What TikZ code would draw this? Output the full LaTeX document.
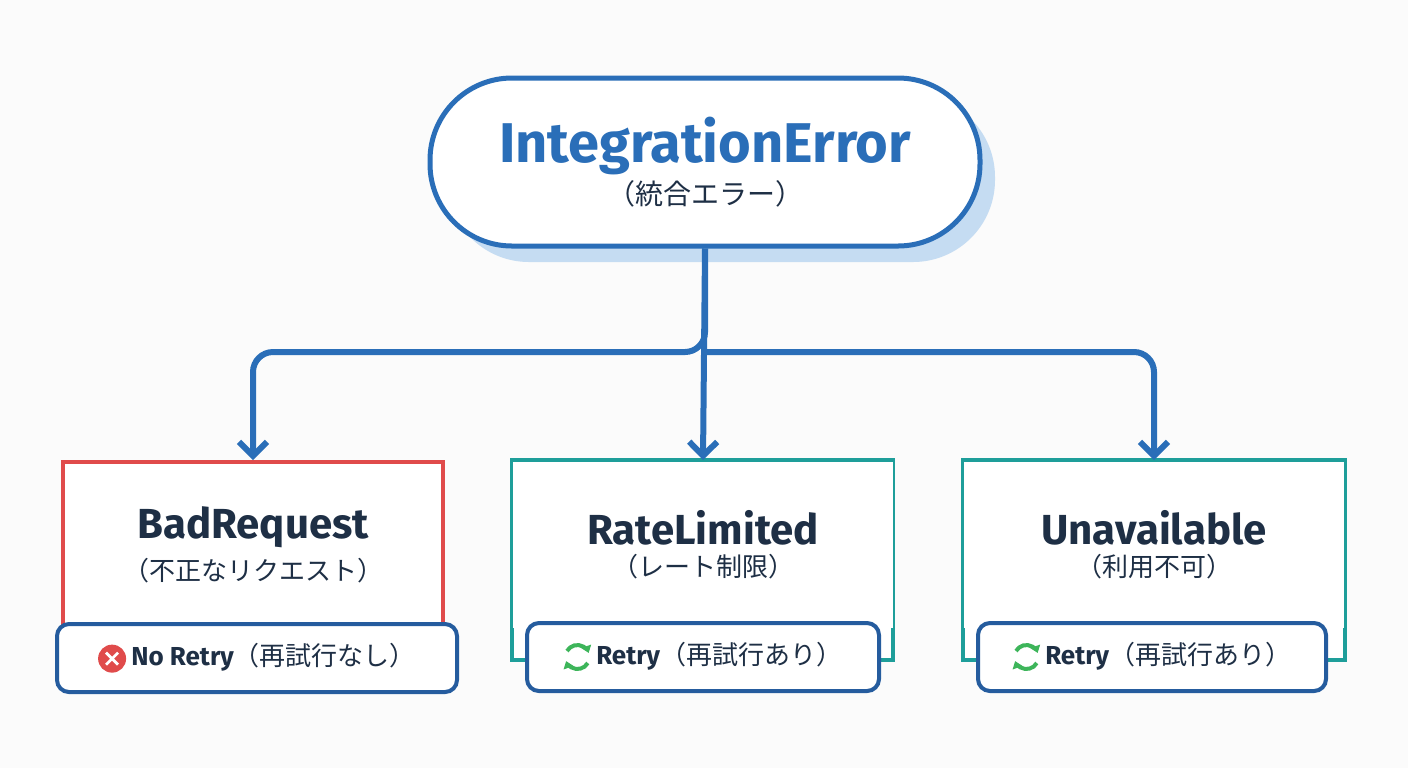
\documentclass[tikz,border=0pt]{standalone}
\usepackage{fontspec}
\setmainfont{Fira Sans}
\newfontfamily\jp{Noto Sans CJK JP}
\usetikzlibrary{arrows.meta}
\definecolor{errblue}{HTML}{2A6EB8}
\definecolor{shadeblue}{HTML}{C5DCF2}
\definecolor{errred}{HTML}{E04B4B}
\definecolor{errteal}{HTML}{1E9E9A}
\definecolor{badgeblue}{HTML}{255C9E}
\definecolor{okgreen}{HTML}{3DB55A}
\definecolor{inkdark}{HTML}{1E2F45}
\tikzset{%
    root/.style={
      rounded corners=41pt,
      draw=errblue,
      line width=2.5pt,
      fill=white,
      minimum width=275pt,
      minimum height=84pt,
      align=center
    },
    kind/.style={
      rectangle,
      draw,
      line width=2pt,
      fill=white,
      minimum width=190pt,
      minimum height=83pt,
      align=center,
      anchor=north
    },
    badge/.style={
      rectangle,
      rounded corners=6pt,
      draw=badgeblue,
      line width=2pt,
      fill=white,
      minimum height=34pt,
      anchor=north
    },
    link/.style={
      draw=errblue,
      line width=3pt,
      rounded corners=10pt,
      -{Straight Barb[length=7pt,width=14pt]}
    }
  }
\newcommand{\nokicon}{\tikz[baseline=-3.5pt]{\fill[errred] (0,0) circle (7pt);
  \draw[white,line width=1.4pt] (-3pt,-3pt) -- (3pt,3pt) (-3pt,3pt) -- (3pt,-3pt);}}
\newcommand{\okicon}{\tikz[baseline=-3.5pt]{
  \draw[okgreen,line width=2pt,-{Triangle[length=3.5pt,width=5pt]}] (150:6pt) arc (150:20:6pt);
  \draw[okgreen,line width=2pt,-{Triangle[length=3.5pt,width=5pt]}] (-30:6pt) arc (-30:-160:6pt);}}
\newcommand{\kindtext}[2]{{\fontsize{21}{24}\selectfont\bfseries\color{inkdark}#1}\\[4pt]
  {\fontsize{13}{15}\selectfont\jp\color{inkdark}#2}}
\begin{document}
\begin{tikzpicture}[x=0.5pt, y=-0.5pt]
      \fill[white!97!gray] (0,0) rectangle (1408,768);
      \useasboundingbox (0,0) rectangle (1408,768);

      \fill[shadeblue, rounded corners=41pt] (447,95) rectangle (995,262);
      \node [root] (err) at (705,162) {%
        {\fontsize{28}{30}\selectfont\bfseries\color{errblue}IntegrationError}\\[2pt]
        {\fontsize{14}{16}\selectfont\jp\color{inkdark}（統合エラー）}};

      % teal boxes run down behind the badges
      \draw[errteal, line width=2pt, fill=white] (512,460) rectangle (893,660);
      \draw[errteal, line width=2pt, fill=white] (963,460) rectangle (1345,660);

      \node [kind, draw=errred] (bad) at (253,460) {\kindtext{BadRequest}{（不正なリクエスト）}};
      \node [kind, draw=none] (rate) at (703,460) {\kindtext{RateLimited}{（レート制限）}};
      \node [kind, draw=none] (unav) at (1154,460) {\kindtext{Unavailable}{（利用不可）}};

      \node [badge, minimum width=200pt] (nore) at (257,622) {%
        \nokicon\ {\fontsize{13}{15}\selectfont\bfseries\color{inkdark}No Retry}{\fontsize{13}{15}\selectfont\jp\color{inkdark}（再試行なし）}};
      \node [badge, minimum width=176pt] (re1) at (703,621) {%
        \okicon\ {\fontsize{13}{15}\selectfont\bfseries\color{inkdark}Retry}{\fontsize{13}{15}\selectfont\jp\color{inkdark}（再試行あり）}};
      \node [badge, minimum width=174pt] (re2) at (1152,621) {%
        \okicon\ {\fontsize{13}{15}\selectfont\bfseries\color{inkdark}Retry}{\fontsize{13}{15}\selectfont\jp\color{inkdark}（再試行あり）}};

      \coordinate (fork) at (705,352);
      \draw [link] (err.south) -- (fork) -| (bad.north);
      \draw [link] (err.south) -- (rate.north);
      \draw [link] (fork) -| (unav.north);
    \end{tikzpicture}
\end{document}
